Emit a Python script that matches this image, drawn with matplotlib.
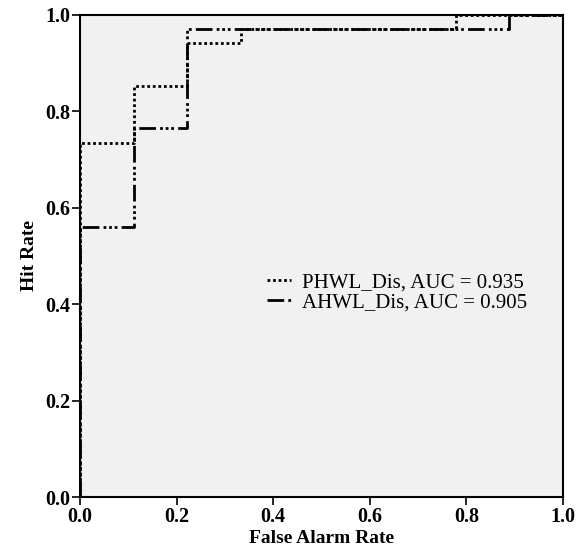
import matplotlib.pyplot as plt

# ROC steps (34 positives, 9 negatives)
phwl_fpr = [0.0, 0.0, 0.111, 0.111, 0.222, 0.222, 0.333, 0.333, 0.778, 0.778, 1.0]
phwl_tpr = [0.0, 0.735, 0.735, 0.853, 0.853, 0.941, 0.941, 0.971, 0.971, 1.0, 1.0]
ahwl_fpr = [0.0, 0.0, 0.111, 0.111, 0.222, 0.222, 0.889, 0.889, 1.0]
ahwl_tpr = [0.0, 0.559, 0.559, 0.765, 0.765, 0.971, 0.971, 1.0, 1.0]
labels = ['PHWL_Dis, AUC = 0.935', 'AHWL_Dis, AUC = 0.905']

plt.rcParams['font.family'] = ['Liberation Serif', 'DejaVu Serif']

fig = plt.figure(figsize=(5.84, 5.51), dpi=100)
ax = fig.add_axes([0.137, 0.098, 0.827, 0.875])
ax.set_facecolor('#f1f1f1')

ax.plot(phwl_fpr, phwl_tpr, color='black', lw=2, linestyle=(0, (1, 1)), label=labels[0])
ax.plot(ahwl_fpr, ahwl_tpr, color='black', lw=2, linestyle=(0, (6, 1.5, 1, 1, 1, 1, 1, 1.5)), label=labels[1])

ax.set_xlim(0, 1)
ax.set_ylim(0, 1)
ticks = [0.0, 0.2, 0.4, 0.6, 0.8, 1.0]
ax.set_xticks(ticks)
ax.set_yticks(ticks)
ax.set_xticklabels([f'{t:.1f}' for t in ticks], fontweight='bold', fontsize=14.5)
ax.set_yticklabels([f'{t:.1f}' for t in ticks], fontweight='bold', fontsize=14.5)
ax.tick_params(direction='out', length=6, width=1.2, pad=1)
for s in ax.spines.values():
    s.set_linewidth(1.5)

ax.set_xlabel('False Alarm Rate', fontweight='bold', fontsize=14, labelpad=2)
ax.set_ylabel('Hit Rate', fontweight='bold', fontsize=14, labelpad=5)

ax.legend(loc='center left', bbox_to_anchor=(0.349, 0.424), frameon=False, fontsize=15,
          handlelength=1.15, handletextpad=0.5, labelspacing=0.0)

plt.savefig('out.png', dpi=100)
plt.close()
